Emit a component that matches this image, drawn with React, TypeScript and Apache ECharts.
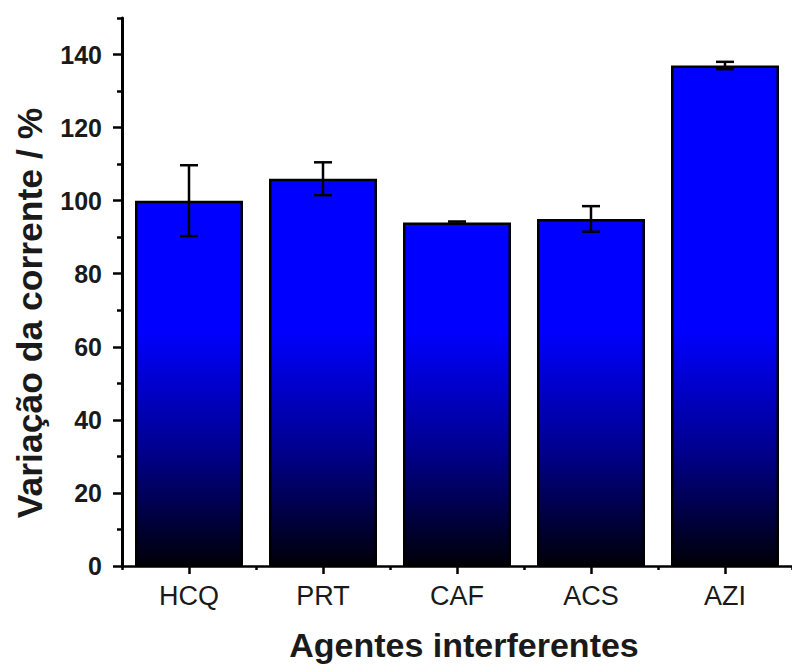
import React, { useEffect, useRef } from "react";
import * as echarts from "echarts";

const categories = ["HCQ", "PRT", "CAF", "ACS", "AZI"];
const values = [100, 106, 94, 95, 137];
const errors = [9.7, 4.5, 0.3, 3.5, 1.0];
const majorTicks = [0, 20, 40, 60, 80, 100, 120, 140];
const minorTicks = [10, 30, 50, 70, 90, 110, 130, 150];
const yTitle = "Variação da corrente / %";
const xTitle = "Agentes interferentes";

const FONT = '"Liberation Sans", Arial, sans-serif';

export default function App() {
  const ref = useRef<HTMLDivElement>(null);
  useEffect(() => {
    if (!ref.current) return;
    const chart = echarts.init(ref.current, undefined, { renderer: "svg" });
    const grad = new echarts.graphic.LinearGradient(
      0, 330, 0, 566,
      [
        { offset: 0, color: "#0000ff" },
        { offset: 0.5, color: "#000090" },
        { offset: 1, color: "#000008" },
      ],
      true
    );
    const errData = values.map((v, i) => [i, v - errors[i], v + errors[i]]);
    chart.setOption({
      animation: false,
      backgroundColor: "#ffffff",
      grid: { left: 122, right: -8, top: 18, bottom: 98, containLabel: false },
      graphic: [
        {
          type: "text",
          x: 30,
          y: 313,
          rotation: Math.PI / 2,
          style: {
            text: yTitle,
            fontFamily: FONT,
            fontSize: 35.5,
            fontWeight: "bold",
            fill: "#1a1a1a",
            align: "center",
            verticalAlign: "middle",
          },
        },
        {
          type: "text",
          x: 464,
          y: 645,
          style: {
            text: xTitle,
            fontFamily: FONT,
            fontSize: 34,
            fontWeight: "bold",
            fill: "#1a1a1a",
            align: "center",
            verticalAlign: "middle",
          },
        },
      ],
      xAxis: [
        {
          type: "category",
          data: categories,
          position: "bottom",
          axisLine: { show: true, lineStyle: { color: "#000", width: 2.5 } },
          axisTick: { show: true, alignWithLabel: true, length: 8, lineStyle: { color: "#000", width: 2.5 } },
          axisLabel: { fontFamily: FONT, fontSize: 27, color: "#1a1a1a", margin: 16 },
          splitLine: { show: false },
        },
        {
          type: "category",
          data: categories,
          position: "bottom",
          axisLine: { show: false },
          axisTick: { show: true, length: 4, lineStyle: { color: "#000", width: 2.5 } },
          axisLabel: { show: false },
          splitLine: { show: false },
        },
      ],
      yAxis: [
        {
          type: "value",
          min: 0,
          max: 150,
          interval: 10,
          axisLine: { show: true, lineStyle: { color: "#000", width: 3 } },
          axisTick: { show: true, length: 9, customValues: majorTicks, lineStyle: { color: "#000", width: 2.5 } },
          axisLabel: {
            customValues: majorTicks,
            fontFamily: FONT,
            fontSize: 25,
            fontWeight: "bold",
            color: "#1a1a1a",
            margin: 20,
          },
          splitLine: { show: false },
        },
        {
          type: "value",
          min: 0,
          max: 150,
          interval: 10,
          position: "left",
          axisLine: { show: false },
          axisTick: { show: true, length: 5, customValues: minorTicks, lineStyle: { color: "#000", width: 2.5 } },
          axisLabel: { show: false },
          splitLine: { show: false },
        },
      ],
      series: [
        {
          type: "bar",
          data: values,
          barWidth: 108,
          xAxisIndex: 0,
          yAxisIndex: 0,
          itemStyle: { color: grad, borderColor: "#000", borderWidth: 2.5 },
        },
        {
          type: "custom",
          xAxisIndex: 0,
          yAxisIndex: 0,
          data: errData,
          z: 10,
          renderItem: (params: any, api: any) => {
            const x = api.value(0);
            const lo = api.coord([x, api.value(1)]);
            const hi = api.coord([x, api.value(2)]);
            const hw = 9;
            const style = { stroke: "#000", lineWidth: 2.5 };
            return {
              type: "group",
              children: [
                { type: "line", shape: { x1: lo[0], y1: lo[1], x2: hi[0], y2: hi[1] }, style },
                { type: "line", shape: { x1: hi[0] - hw, y1: hi[1], x2: hi[0] + hw, y2: hi[1] }, style },
                { type: "line", shape: { x1: lo[0] - hw, y1: lo[1], x2: lo[0] + hw, y2: lo[1] }, style },
              ],
            };
          },
        },
      ],
    });
    return () => chart.dispose();
  }, []);
  return (
    <div
      ref={ref}
      style={{ position: "fixed", left: 0, top: 0, width: 792, height: 664, background: "#fff" }}
    />
  );
}
